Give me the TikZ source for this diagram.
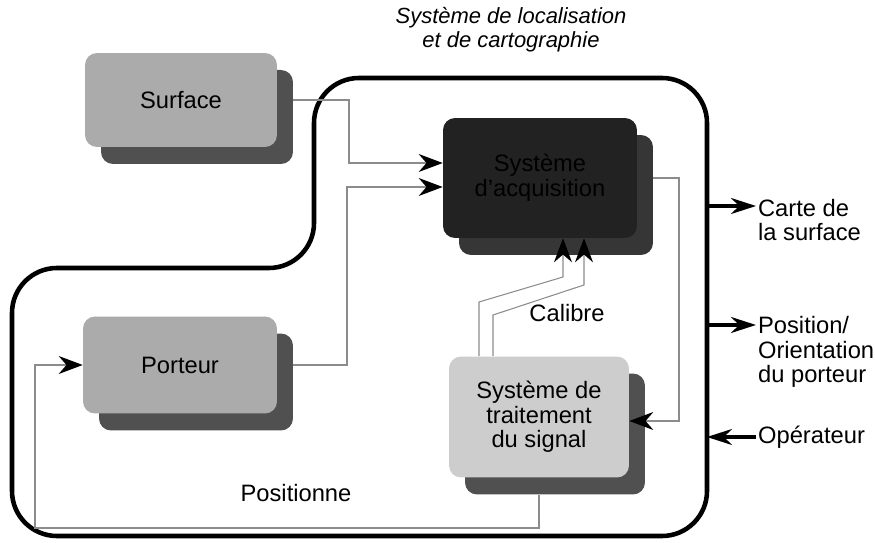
\documentclass[tikz,border=0pt]{standalone}
\usepackage{fontspec}
\setmainfont{Liberation Sans}
\usetikzlibrary{arrows.meta,shadows}

\definecolor{boxgray}{HTML}{ABABAB}
\definecolor{sigfill}{HTML}{CDCDCD}
\definecolor{shadowgray}{HTML}{505050}
\definecolor{acqfill}{HTML}{222222}
\definecolor{acqshadow}{HTML}{363636}
\definecolor{linkgray}{HTML}{8C8C8C}

\begin{document}
\begin{tikzpicture}[
  x=0.02cm, y=-0.02cm,
  font=\fontsize{13.5}{14}\selectfont,
  box/.style 2 args={
    rectangle, rounded corners=0.24cm, fill=#1, align=center, text=black,
    drop shadow={shadow xshift=0.32cm, shadow yshift=-0.34cm, opacity=1, fill=#2}
  },
  link/.style={draw=linkgray, line width=0.6pt, -{Stealth[length=0.48cm, width=0.36cm, color=black]}},
  ext/.style={line width=1.8pt, -{Stealth[length=0.5cm, width=0.32cm]}},
  tag/.style={align=left, anchor=west, inner sep=1pt},
]
\useasboundingbox (0,0) rectangle (875,543);

\node[font=\fontsize{12.5}{13.5}\selectfont\itshape, align=center] (title) at (511,30)
  {Système de localisation\\et de cartographie};

\draw[line width=2.6pt, rounded corners=0.9cm]
  (160,268) -- (314,268) -- (314,78) -- (707,78) -- (707,536) -- (12,536) -- (12,268) -- cycle;

\node[box={boxgray}{shadowgray}, minimum width=3.84cm, minimum height=1.88cm] (surf) at (181,100) {Surface};
\node[box={acqfill}{acqshadow}, minimum width=3.88cm, minimum height=2.4cm] (acq) at (540,178) {Système\\d'acquisition};
\node[box={boxgray}{shadowgray}, minimum width=3.88cm, minimum height=1.94cm] (port) at (180,365) {Porteur};
\node[box={sigfill}{shadowgray}, minimum width=3.6cm, minimum height=2.42cm] (sig) at (539,417) {Système de\\traitement\\du signal};

\node (calib) at (567,313) {Calibre};
\node (posit) at (296,493) {Positionne};

\draw[link] ([xshift=0.32cm]surf.east) -- (349,100) |- ([yshift=0.3cm]acq.west);
\draw[link] ([xshift=0.32cm]port.east) -- (347,365) |- ([yshift=-0.18cm]acq.west);
\draw[link] ([xshift=0.32cm]acq.east) -- (679,178) |- ([yshift=-0.08cm]sig.east);
\draw[link] ([xshift=-1.2cm]sig.north) -- (479,302) -- (563,277) -- ([xshift=0.46cm]acq.south);
\draw[link] ([xshift=-0.92cm]sig.north) -- (493,315) -- (584,285) -- ([xshift=0.88cm]acq.south);
\draw[link] ([yshift=-0.34cm]sig.south) |- (35,528) |- (port.west);

\node[tag] (carte) at (756,220) {Carte de\\la surface};
\node[tag] (pose) at (756,352) {Position/\\Orientation\\du porteur};
\node[tag] (oper) at (756,437) {Opérateur};

\draw[ext] (707,206) -- (carte.west |- 707,206);
\draw[ext] (707,325) -- (pose.west |- 707,325);
\draw[ext] (oper.west) -- (oper.west -| 707,0);

\end{tikzpicture}
\end{document}
